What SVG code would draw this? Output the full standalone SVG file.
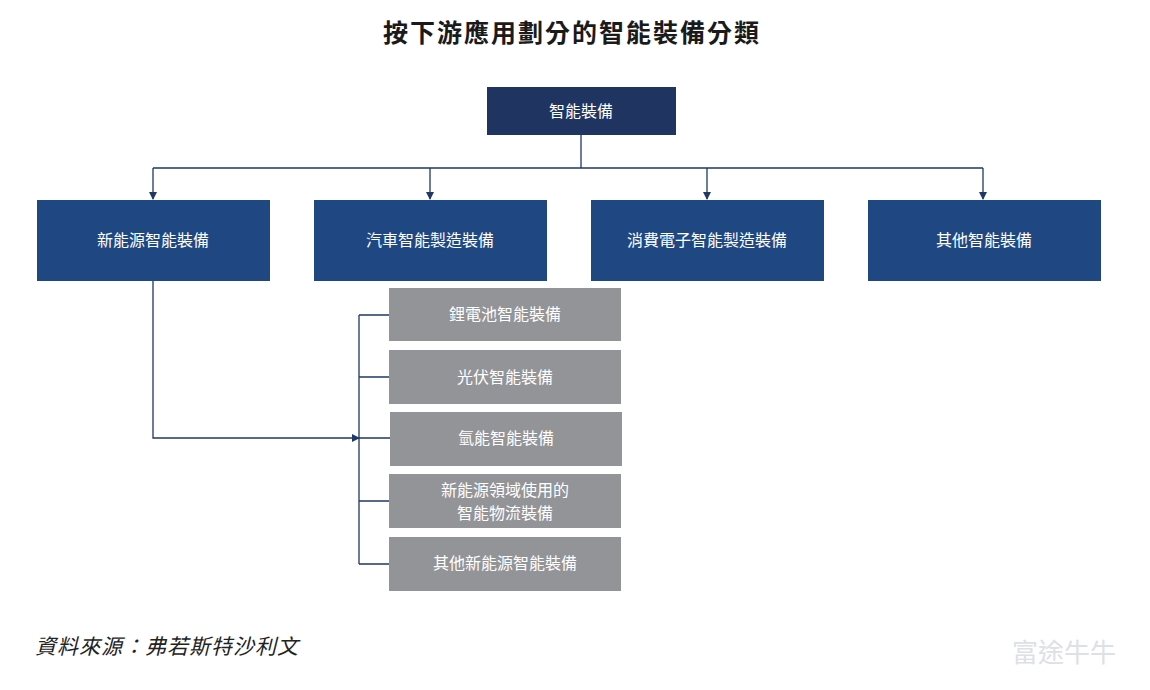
<svg xmlns="http://www.w3.org/2000/svg" width="1150" height="690" viewBox="0 0 1150 690">
<style>
text{font-family:"Noto Sans CJK TC","Noto Sans CJK SC",sans-serif}
.t{font-size:25px;font-weight:bold;fill:#1a1a1a;text-anchor:middle;letter-spacing:2px}
.b{fill:#1f4883}
.g{fill:#939498}
.w{fill:#fff;font-size:16px;text-anchor:middle}
.c{stroke:#1f3864;stroke-width:1.3;fill:none}
.src{font-style:italic;font-size:21px;fill:#222;letter-spacing:1px}
</style>
<defs><marker id="a" markerWidth="8" markerHeight="8" refX="7" refY="4" orient="auto" markerUnits="userSpaceOnUse"><path d="M0,0 L8,4 L0,8z" fill="#1f3864"/></marker></defs>
<rect width="1150" height="690" fill="#fff"/>
<text class="t" x="572" y="42">按下游應用劃分的智能裝備分類</text>
<g id="connectors">
<path class="c" d="M581,135 V168 M153,168 H983"/>
<path class="c" d="M153,168 V199" marker-end="url(#a)"/>
<path class="c" d="M430,168 V199" marker-end="url(#a)"/>
<path class="c" d="M707,168 V199" marker-end="url(#a)"/>
<path class="c" d="M983,168 V199" marker-end="url(#a)"/>
<path class="c" d="M153,281 V438 H359" marker-end="url(#a)"/>
<path class="c" d="M359,438 H390 M359,315 V564 M359,315 H389 M359,377 H389 M359,501 H389 M359,564 H389"/>
</g>
<g id="n0"><rect x="487" y="87" width="189" height="48" fill="#1f3461"/><text class="w" x="581" y="117">智能裝備</text></g>
<g id="n1"><rect class="b" x="37" y="200" width="233" height="81"/><text class="w" x="153" y="246">新能源智能裝備</text></g>
<g id="n2"><rect class="b" x="314" y="200" width="233" height="81"/><text class="w" x="430" y="246">汽車智能製造裝備</text></g>
<g id="n3"><rect class="b" x="591" y="200" width="233" height="81"/><text class="w" x="707" y="246">消費電子智能製造裝備</text></g>
<g id="n4"><rect class="b" x="868" y="200" width="233" height="81"/><text class="w" x="984" y="246">其他智能裝備</text></g>
<g id="s1"><rect class="g" x="389" y="288" width="232" height="53"/><text class="w" x="505" y="320">鋰電池智能裝備</text></g>
<g id="s2"><rect class="g" x="389" y="350" width="232" height="54"/><text class="w" x="505" y="383">光伏智能裝備</text></g>
<g id="s3"><rect class="g" x="390" y="412" width="232" height="54"/><text class="w" x="506" y="444">氫能智能裝備</text></g>
<g id="s4"><rect class="g" x="389" y="474" width="232" height="54"/><text class="w" x="505" y="496">新能源領域使用的</text><text class="w" x="505" y="519">智能物流裝備</text></g>
<g id="s5"><rect class="g" x="389" y="537" width="232" height="54"/><text class="w" x="505" y="569">其他新能源智能裝備</text></g>
<text class="src" x="35" y="654">資料來源：弗若斯特沙利文</text>
<text x="1012" y="662" font-size="26" fill="#dde0e4">富途牛牛</text>
</svg>
